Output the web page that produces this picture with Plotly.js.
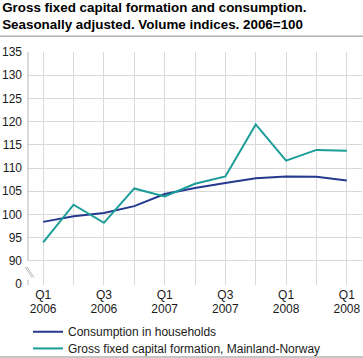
<!DOCTYPE html>
<html>
<head>
<meta charset="utf-8">
<script src="https://cdn.plot.ly/plotly-3.0.1.min.js"></script>
<style>html,body{margin:0;padding:0;background:#fff;}#chart{width:363px;height:358px;}</style>
</head>
<body>
<div id="chart"></div>
<script>
var quarters = ['2006Q1','2006Q2','2006Q3','2006Q4','2007Q1','2007Q2','2007Q3','2007Q4','2008Q1','2008Q2','2008Q3'];
var consumption = [98.4, 99.6, 100.3, 101.8, 104.4, 105.7, 106.8, 107.8, 108.2, 108.1, 107.3];
var grossFixed = [94.0, 102.1, 98.2, 105.6, 103.9, 106.6, 108.2, 119.4, 111.6, 113.9, 113.7];
var quarterLabels = ['Q1','','Q3','','Q1','','Q3','','Q1','','Q1'];
var yearLabels = ['2006','','2006','','2007','','2007','','2008','','2008'];
var yTicks = [90, 95, 100, 105, 110, 115, 120, 125, 130, 135];
var seriesNames = ['Consumption in households', 'Gross fixed capital formation, Mainland-Norway'];

var FONT = 'Liberation Sans, Arial, sans-serif';
var TF = {family: FONT, size: 12, color: '#1a1a1a'};
var YR = [84.8, 135];

var traces = [
  {x: quarters, y: consumption, name: seriesNames[0], type: 'scatter', mode: 'lines',
   line: {color: '#25398f', width: 2}, legend: 'legend'},
  {x: quarters, y: grossFixed, name: seriesNames[1], type: 'scatter', mode: 'lines',
   line: {color: '#1a9c98', width: 2}, legend: 'legend2'},
  {x: [quarters[0]], y: [null], xaxis: 'x2', yaxis: 'y2', showlegend: false, hoverinfo: 'skip',
   type: 'scatter', mode: 'lines'}
];

var layout = {
  width: 363, height: 358,
  margin: {l: 28, r: 1, t: 52, b: 73, autoexpand: false},
  paper_bgcolor: '#fff', plot_bgcolor: '#fff',
  font: {family: FONT, size: 12, color: '#1a1a1a'},
  title: {text: 'Gross fixed capital formation and consumption.<br>Seasonally adjusted. Volume indices. 2006=100',
          x: 0.006, xanchor: 'left', xref: 'container', y: 0.967, yanchor: 'top', yref: 'container',
          font: {family: FONT, size: 13.4, color: '#000', weight: 'bold'}},
  xaxis: {type: 'category', categoryorder: 'array', categoryarray: quarters,
          range: [-0.5, 10.5], tickvals: quarters, ticktext: quarterLabels,
          showgrid: true, gridcolor: '#d9d9d9', gridwidth: 1, zeroline: false,
          showline: false, ticks: '', tickfont: TF, ticklabelstandoff: 1},
  xaxis2: {type: 'category', categoryorder: 'array', categoryarray: quarters, overlaying: 'x', side: 'bottom',
          range: [-0.5, 10.5], tickvals: quarters, ticktext: yearLabels, anchor: 'y',
          showgrid: false, zeroline: false, showline: false, ticks: '', tickfont: TF, ticklabelstandoff: 15},
  yaxis: {range: YR, tickvals: yTicks, ticktext: yTicks.map(String),
          showgrid: true, gridcolor: '#d9d9d9', gridwidth: 1, zeroline: false, showline: false,
          ticks: '', tickfont: TF, ticklabelstandoff: 5},
  yaxis2: {overlaying: 'y', side: 'left', range: YR, tickvals: [85], ticktext: ['0'], anchor: 'x',
           showgrid: false, zeroline: false, showline: false, ticks: '', tickfont: TF, ticklabelstandoff: 5},
  showlegend: true,
  legend: {x: 0.0, xanchor: 'left', y: -0.138, yanchor: 'top', orientation: 'v',
           font: TF, bgcolor: 'rgba(0,0,0,0)', itemwidth: 30},
  legend2: {x: 0.0, xanchor: 'left', y: -0.21, yanchor: 'top', orientation: 'v',
           font: TF, bgcolor: 'rgba(0,0,0,0)', itemwidth: 30},
  shapes: [
    {type: 'line', xref: 'paper', yref: 'y', x0: 0, x1: 0, y0: 90, y1: 135, line: {color: '#b8b8b8', width: 1}},
    {type: 'line', xref: 'paper', yref: 'y', x0: 0, x1: 0, y0: 84.8, y1: 85.9, line: {color: '#b8b8b8', width: 1}},
    {type: 'line', xref: 'paper', yref: 'y', x0: -0.003, x1: 0.018, y0: 88.7, y1: 86.4, line: {color: '#b8b8b8', width: 1}},
    {type: 'line', xref: 'paper', yref: 'y', x0: -0.009, x1: 0.012, y0: 88.7, y1: 86.4, line: {color: '#b8b8b8', width: 1}},
    {type: 'line', xref: 'paper', yref: 'paper', x0: -0.084, x1: 1.003, y0: 1.068, y1: 1.068, line: {color: '#8c8c8c', width: 1}},
    {type: 'line', xref: 'paper', yref: 'paper', x0: -0.084, x1: 1.003, y0: -0.309, y1: -0.309, line: {color: '#8c8c8c', width: 1}}
  ]
};

Plotly.newPlot('chart', traces, layout, {staticPlot: true, displayModeBar: false});
</script>
</body>
</html>
